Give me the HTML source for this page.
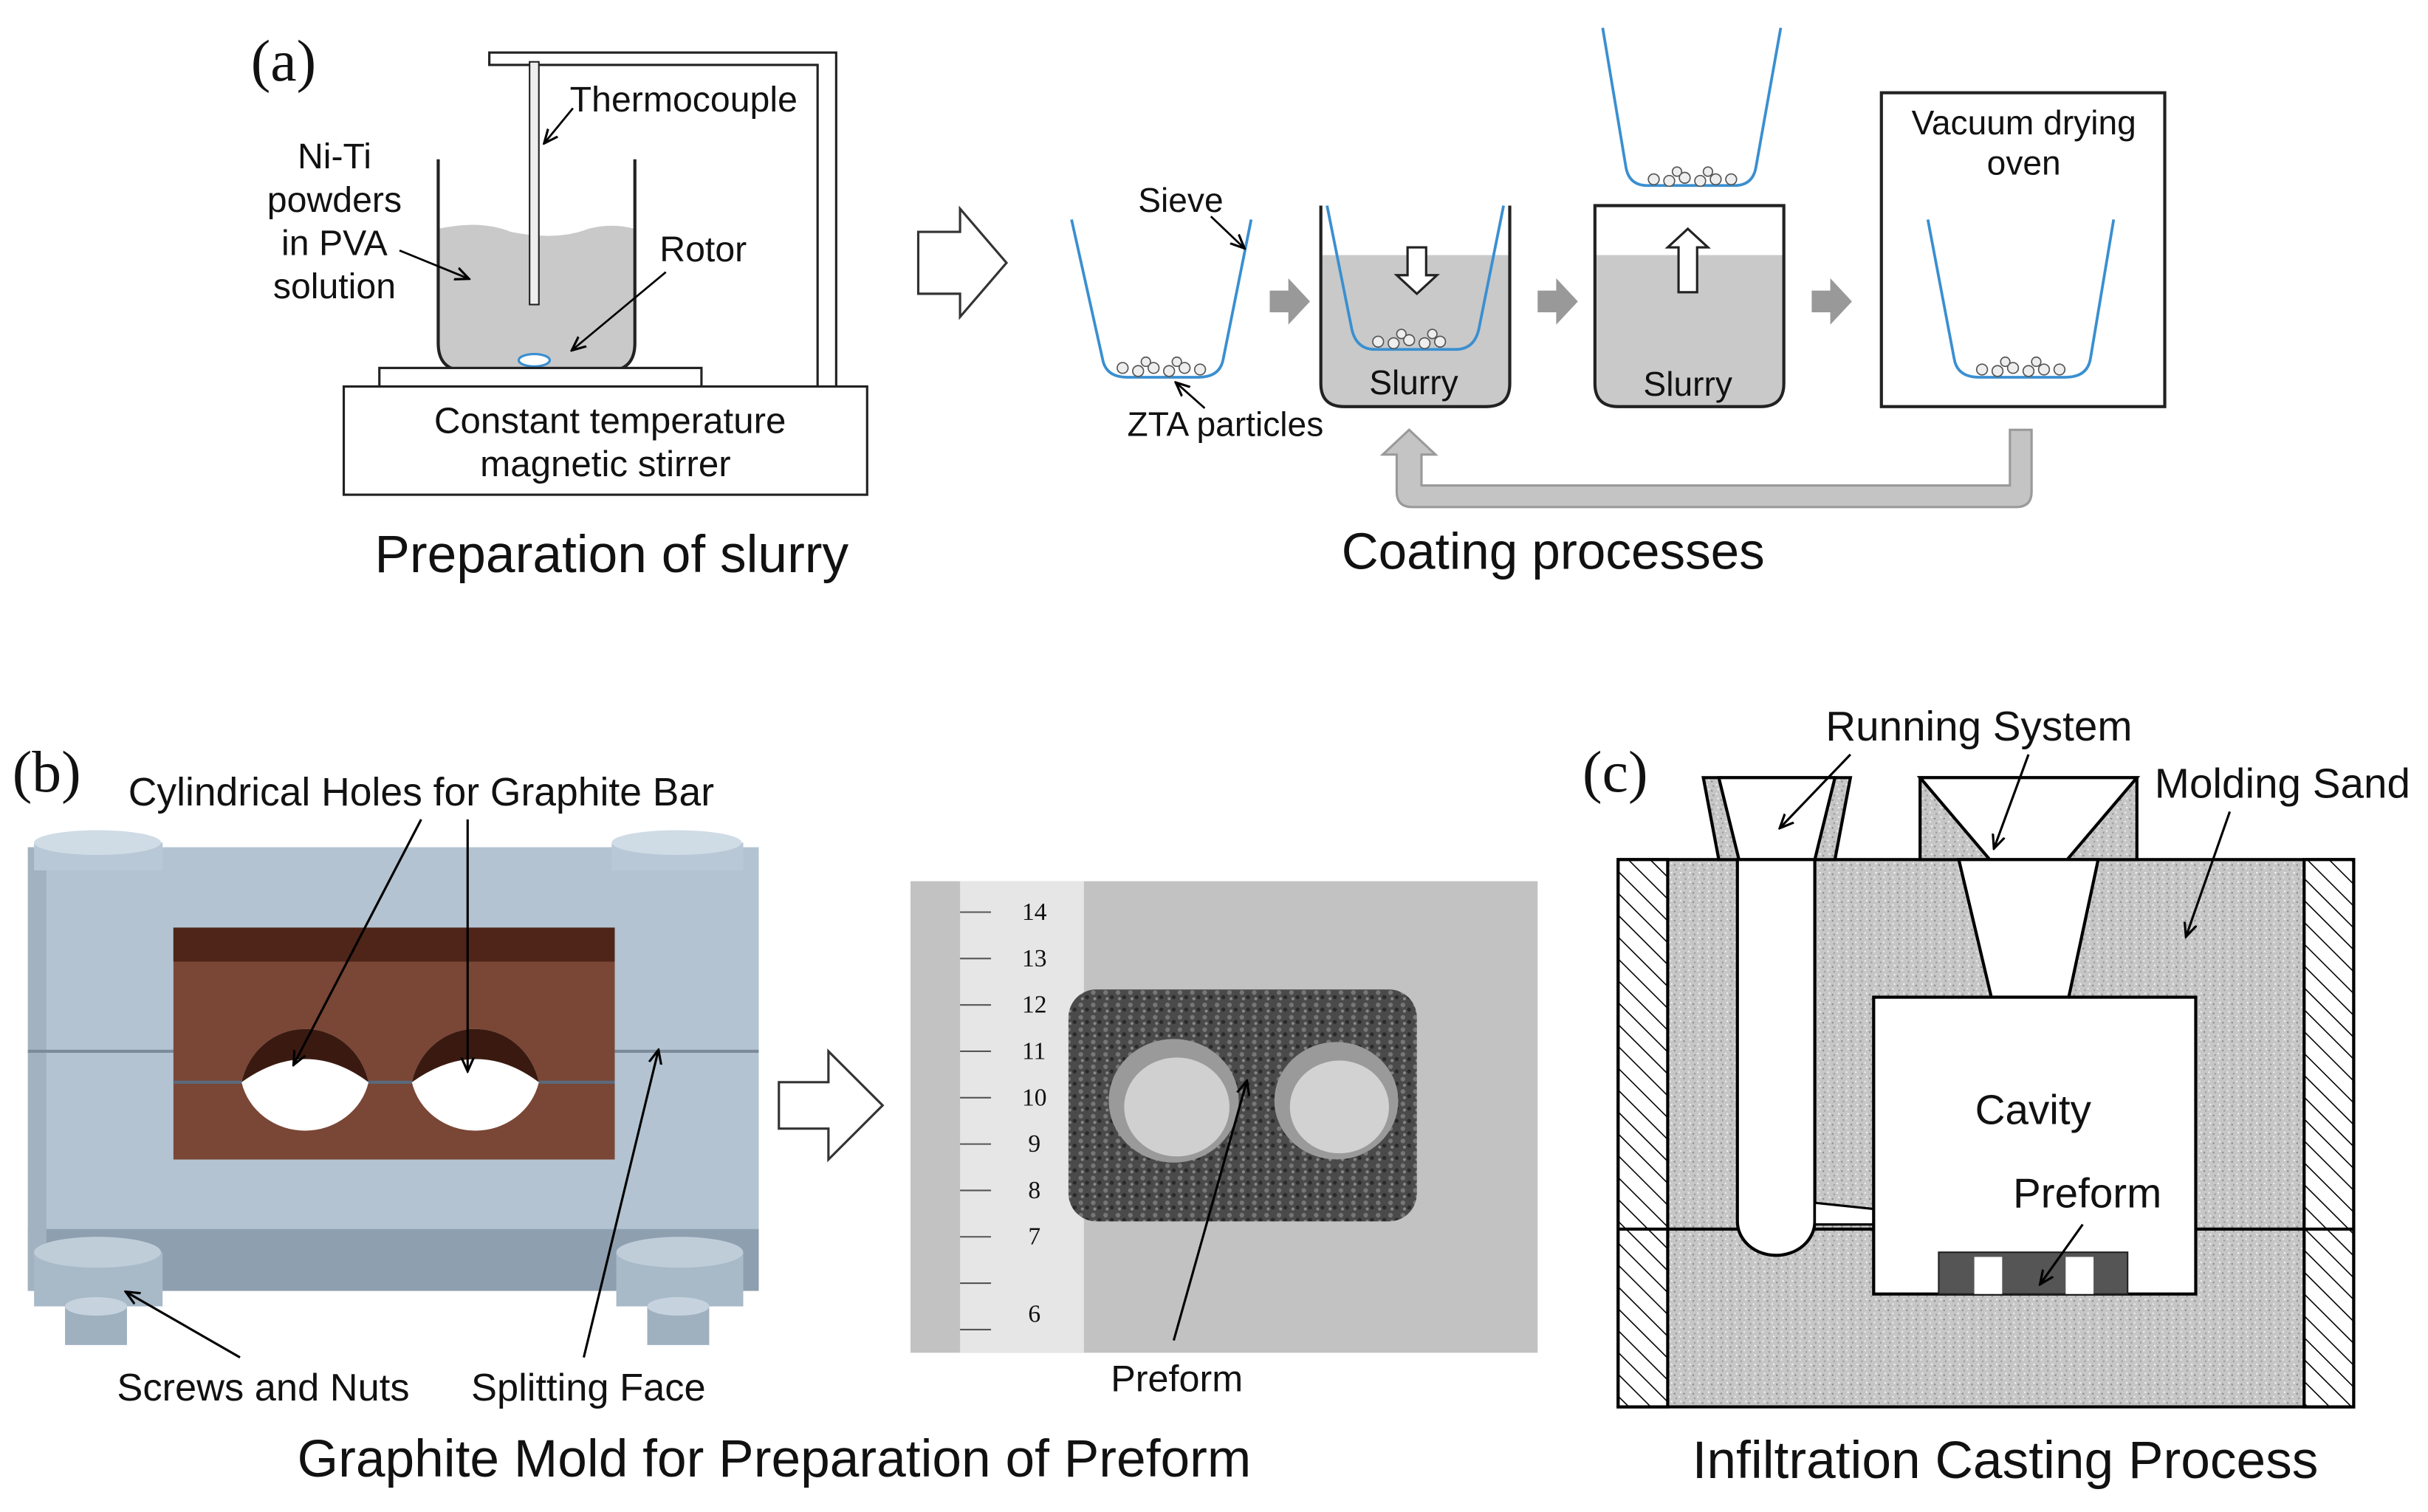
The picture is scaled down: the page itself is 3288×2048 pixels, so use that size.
<!DOCTYPE html>
<html><head><meta charset="utf-8"><style>
html,body{margin:0;padding:0;background:#fff}
svg{display:block}
text{font-family:"Liberation Sans",sans-serif;fill:#111}
.s{font-family:"Liberation Serif",serif}
</style></head><body>
<svg width="3288" height="2048" viewBox="0 0 1568 978" preserveAspectRatio="none" xmlns="http://www.w3.org/2000/svg">
<defs>
<marker id="ah" markerWidth="10" markerHeight="10" refX="8" refY="5" orient="auto" markerUnits="userSpaceOnUse"><path d="M0,1 L9,5 L0,9" fill="none" stroke="#000" stroke-width="1.5"/></marker>
<pattern id="sand" width="6" height="6" patternUnits="userSpaceOnUse"><rect width="6" height="6" fill="#c6c6c6"/><rect x="1" y="1" width="1" height="1" fill="#888"/><rect x="4" y="3" width="1" height="1" fill="#eee"/><rect x="2" y="4" width="1" height="1" fill="#999"/><rect x="5" y="0" width="1" height="1" fill="#f4f4f4"/></pattern>
<pattern id="hatch" width="10" height="10" patternUnits="userSpaceOnUse" patternTransform="rotate(-45)"><rect width="10" height="10" fill="#fff"/><line x1="0" y1="0" x2="0" y2="10" stroke="#000" stroke-width="1.5"/></pattern>
<pattern id="grit" width="8" height="8" patternUnits="userSpaceOnUse"><rect width="8" height="8" fill="#4a4a4a"/><circle cx="2" cy="2" r="1.5" fill="#777"/><circle cx="6" cy="5" r="1.3" fill="#2a2a2a"/><circle cx="3" cy="6" r="1" fill="#888"/></pattern>
</defs>
<rect width="1568" height="978" fill="#fff"/>

<!-- (a) -->
<text class="s" x="162" y="52" font-size="38">(a)</text>
<path d="M316,34 H540 V250 H528 V42 H316 Z" fill="#fff" stroke="#222" stroke-width="1.5"/>
<path d="M283,148 Q310,142 330,150 Q360,156 380,148 Q395,144 410,148 V222 Q410,240 392,240 H301 Q283,240 283,222 Z" fill="#c9c9c9"/>
<path d="M283,103 V222 Q283,240 301,240 H392 Q410,240 410,222 V103" fill="none" stroke="#222" stroke-width="2"/>
<rect x="342" y="40" width="6" height="157" fill="#eee" stroke="#222" stroke-width="1"/>
<ellipse cx="345" cy="233" rx="10" ry="4" fill="#fff" stroke="#3a8fd0" stroke-width="1.5"/>
<rect x="245" y="238" width="208" height="12" fill="#fff" stroke="#222" stroke-width="1.5"/>
<rect x="222" y="250" width="338" height="70" fill="#fff" stroke="#222" stroke-width="1.5"/>
<text x="394" y="280" font-size="23.5" text-anchor="middle">Constant temperature</text>
<text x="391" y="308" font-size="23.5" text-anchor="middle">magnetic  stirrer</text>
<g font-size="23" text-anchor="middle"><text x="216" y="109">Ni-Ti</text><text x="216" y="137">powders</text><text x="216" y="165">in PVA</text><text x="216" y="193">solution</text></g>
<text x="368" y="72" font-size="23">Thermocouple</text>
<line x1="370" y1="70" x2="352" y2="92" stroke="#000" stroke-width="1.3" marker-end="url(#ah)"/>
<text x="426" y="169" font-size="23">Rotor</text>
<line x1="430" y1="176" x2="370" y2="226" stroke="#000" stroke-width="1.3" marker-end="url(#ah)"/>
<line x1="258" y1="162" x2="302" y2="180" stroke="#000" stroke-width="1.3" marker-end="url(#ah)"/>
<text x="395" y="370" font-size="34" text-anchor="middle">Preparation of slurry</text>

<path d="M593,150 H620 V135 L650,170 L620,205 V190 H593 Z" fill="#fff" stroke="#333" stroke-width="1.5"/>

<!-- sieve 1 -->
<path d="M692,142 L712,232 Q714,244 728,244 H774 Q788,244 790,232 L808,142" fill="none" stroke="#3a8fd0" stroke-width="1.8"/>
<g fill="#eee" stroke="#555" stroke-width="0.8"><circle cx="725" cy="238" r="3.5"/><circle cx="735" cy="240" r="3.5"/><circle cx="745" cy="238" r="3.5"/><circle cx="755" cy="240" r="3.5"/><circle cx="765" cy="238" r="3.5"/><circle cx="775" cy="239" r="3.5"/><circle cx="740" cy="234" r="3"/><circle cx="760" cy="234" r="3"/></g>
<text x="735" y="137" font-size="22">Sieve</text>
<line x1="782" y1="140" x2="803" y2="160" stroke="#000" stroke-width="1.3" marker-end="url(#ah)"/>
<text x="728" y="282" font-size="22">ZTA particles</text>
<line x1="778" y1="264" x2="760" y2="248" stroke="#000" stroke-width="1.3" marker-end="url(#ah)"/>
<g fill="#999"><path d="M820,188 H832 V180 L846,195 L832,210 V202 H820 Z"/><path d="M993,188 H1005 V180 L1019,195 L1005,210 V202 H993 Z"/><path d="M1170,188 H1182 V180 L1196,195 L1182,210 V202 H1170 Z"/></g>

<!-- beaker 2 -->
<path d="M853,165 H975 V248 Q975,263 960,263 H868 Q853,263 853,248 Z" fill="#c9c9c9"/>
<path d="M853,133 V248 Q853,263 868,263 H960 Q975,263 975,248 V133" fill="none" stroke="#222" stroke-width="2"/>
<path d="M857,133 L873,213 Q876,226 888,226 H940 Q952,226 955,213 L971,133" fill="none" stroke="#3a8fd0" stroke-width="1.8"/>
<g fill="#eee" stroke="#555" stroke-width="0.8"><circle cx="890" cy="221" r="3.5"/><circle cx="900" cy="222" r="3.5"/><circle cx="910" cy="220" r="3.5"/><circle cx="920" cy="222" r="3.5"/><circle cx="930" cy="221" r="3.5"/><circle cx="905" cy="216" r="3"/><circle cx="925" cy="216" r="3"/></g>
<path d="M909,160 H921 V178 H928 L915,190 L902,178 H909 Z" fill="#fff" stroke="#222" stroke-width="1.5"/>
<text x="913" y="255" font-size="22" text-anchor="middle">Slurry</text>

<!-- beaker 3 -->
<path d="M1030,165 H1152 V248 Q1152,263 1137,263 H1045 Q1030,263 1030,248 Z" fill="#c9c9c9"/>
<path d="M1030,133 V248 Q1030,263 1045,263 H1137 Q1152,263 1152,248 V133 Z" fill="none" stroke="#222" stroke-width="2"/>
<path d="M1084,189 H1096 V160 H1103 L1090,148 L1077,160 H1084 Z" fill="#fff" stroke="#222" stroke-width="1.5"/>
<text x="1090" y="256" font-size="22" text-anchor="middle">Slurry</text>
<path d="M1035,18 L1050,108 Q1052,120 1064,120 H1120 Q1132,120 1134,108 L1150,18" fill="none" stroke="#3a8fd0" stroke-width="1.8"/>
<g fill="#eee" stroke="#555" stroke-width="0.8"><circle cx="1068" cy="116" r="3.5"/><circle cx="1078" cy="117" r="3.5"/><circle cx="1088" cy="115" r="3.5"/><circle cx="1098" cy="117" r="3.5"/><circle cx="1108" cy="116" r="3.5"/><circle cx="1118" cy="116" r="3.5"/><circle cx="1083" cy="111" r="3"/><circle cx="1103" cy="111" r="3"/></g>

<!-- oven -->
<rect x="1215" y="60" width="183" height="203" fill="#fff" stroke="#222" stroke-width="2"/>
<text x="1307" y="87" font-size="22" text-anchor="middle">Vacuum drying</text>
<text x="1307" y="113" font-size="22" text-anchor="middle">oven</text>
<path d="M1245,142 L1262,232 Q1264,244 1278,244 H1334 Q1348,244 1350,232 L1365,142" fill="none" stroke="#3a8fd0" stroke-width="1.8"/>
<g fill="#eee" stroke="#555" stroke-width="0.8"><circle cx="1280" cy="239" r="3.5"/><circle cx="1290" cy="240" r="3.5"/><circle cx="1300" cy="238" r="3.5"/><circle cx="1310" cy="240" r="3.5"/><circle cx="1320" cy="239" r="3.5"/><circle cx="1330" cy="239" r="3.5"/><circle cx="1295" cy="234" r="3"/><circle cx="1315" cy="234" r="3"/></g>
<path d="M1298,278 H1312 V318 Q1312,328 1302,328 H912 Q902,328 902,318 V294 H893 L910,278 L927,294 H918 V314 H1298 Z" fill="#c4c4c4" stroke="#9a9a9a" stroke-width="1.5"/>
<text x="1003" y="368" font-size="33" text-anchor="middle">Coating processes</text>

<!-- (b) -->
<text class="s" x="8" y="512" font-size="38">(b)</text>
<text x="272" y="521" font-size="25.5" text-anchor="middle">Cylindrical Holes for Graphite Bar</text>
<rect x="18" y="548" width="472" height="250" fill="#b3c3d1"/>
<rect x="18" y="795" width="472" height="40" fill="#8e9faf"/>
<rect x="18" y="548" width="12" height="287" fill="#a2b2c0"/>
<line x1="18" y1="680" x2="490" y2="680" stroke="#7b8b99" stroke-width="2"/>
<rect x="22" y="545" width="83" height="18" fill="#b8c8d6"/><ellipse cx="63" cy="545" rx="41" ry="8" fill="#cfdbe5"/>
<rect x="395" y="545" width="85" height="18" fill="#b8c8d6"/><ellipse cx="437" cy="545" rx="42" ry="8" fill="#cfdbe5"/>
<rect x="22" y="810" width="83" height="35" fill="#a8b9c8"/><ellipse cx="63" cy="810" rx="41" ry="10" fill="#bfcdd9"/>
<rect x="42" y="845" width="40" height="25" fill="#9fb0bf"/><ellipse cx="62" cy="845" rx="20" ry="6" fill="#c6d3de"/>
<rect x="398" y="810" width="82" height="35" fill="#a8b9c8"/><ellipse cx="439" cy="810" rx="41" ry="10" fill="#bfcdd9"/>
<rect x="418" y="845" width="40" height="25" fill="#9fb0bf"/><ellipse cx="438" cy="845" rx="20" ry="6" fill="#c6d3de"/>
<rect x="112" y="600" width="285" height="150" fill="#7a4636"/>
<rect x="112" y="600" width="285" height="22" fill="#4e2518"/>
<line x1="112" y1="700" x2="397" y2="700" stroke="#5a6a7a" stroke-width="2"/>
<path d="M156,700 A42,44 0 0 1 238,700 A42,40 0 0 1 156,700 Z" fill="#fff"/>
<path d="M156,700 A42,44 0 0 1 238,700 Q198,670 156,700Z" fill="#3a1a10"/>
<path d="M266,700 A42,44 0 0 1 348,700 A42,40 0 0 1 266,700 Z" fill="#fff"/>
<path d="M266,700 A42,44 0 0 1 348,700 Q308,670 266,700Z" fill="#3a1a10"/>
<line x1="272" y1="530" x2="190" y2="688" stroke="#000" stroke-width="1.5" marker-end="url(#ah)"/>
<line x1="302" y1="530" x2="302" y2="692" stroke="#000" stroke-width="1.5" marker-end="url(#ah)"/>
<line x1="155" y1="878" x2="82" y2="836" stroke="#000" stroke-width="1.5" marker-end="url(#ah)"/>
<line x1="377" y1="878" x2="425" y2="680" stroke="#000" stroke-width="1.5" marker-end="url(#ah)"/>
<text x="170" y="906" font-size="25" text-anchor="middle">Screws and Nuts</text>
<text x="380" y="906" font-size="25" text-anchor="middle">Splitting Face</text>

<path d="M503,700 H535 V680 L570,715 L535,750 V730 H503 Z" fill="#fff" stroke="#333" stroke-width="1.5"/>

<rect x="588" y="570" width="405" height="305" fill="#c2c2c2"/>
<rect x="620" y="570" width="80" height="305" fill="#e6e6e6"/>
<g stroke="#555" stroke-width="1"><line x1="620" y1="590" x2="640" y2="590"/><line x1="620" y1="620" x2="640" y2="620"/><line x1="620" y1="650" x2="640" y2="650"/><line x1="620" y1="680" x2="640" y2="680"/><line x1="620" y1="710" x2="640" y2="710"/><line x1="620" y1="740" x2="640" y2="740"/><line x1="620" y1="770" x2="640" y2="770"/><line x1="620" y1="800" x2="640" y2="800"/><line x1="620" y1="830" x2="640" y2="830"/><line x1="620" y1="860" x2="640" y2="860"/></g>
<g font-size="16"><text x="660" y="595" class="s">14</text><text x="660" y="625" class="s">13</text><text x="660" y="655" class="s">12</text><text x="660" y="685" class="s">11</text><text x="660" y="715" class="s">10</text><text x="664" y="745" class="s">9</text><text x="664" y="775" class="s">8</text><text x="664" y="805" class="s">7</text><text x="664" y="855" class="s">6</text></g>
<rect x="690" y="640" width="225" height="150" rx="18" fill="url(#grit)"/>
<ellipse cx="758" cy="712" rx="42" ry="40" fill="#9a9a9a"/><ellipse cx="760" cy="716" rx="34" ry="32" fill="#d0d0d0"/>
<ellipse cx="863" cy="712" rx="40" ry="38" fill="#9a9a9a"/><ellipse cx="865" cy="716" rx="32" ry="30" fill="#d2d2d2"/>
<line x1="758" y1="867" x2="805" y2="700" stroke="#000" stroke-width="1.5" marker-end="url(#ah)"/>
<text x="760" y="900" font-size="24" text-anchor="middle">Preform</text>
<text x="500" y="955" font-size="34" text-anchor="middle">Graphite Mold for Preparation of Preform</text>

<!-- (c) -->
<text class="s" x="1022" y="512" font-size="38">(c)</text>
<rect x="1045" y="556" width="475" height="354" fill="url(#sand)" stroke="#000" stroke-width="2"/>
<rect x="1045" y="556" width="32" height="354" fill="url(#hatch)" stroke="#000" stroke-width="2"/>
<rect x="1488" y="556" width="32" height="354" fill="url(#hatch)" stroke="#000" stroke-width="2"/>
<line x1="1045" y1="795" x2="1520" y2="795" stroke="#000" stroke-width="2"/>
<path d="M1100,503 H1195 L1185,556 H1110 Z" fill="url(#sand)" stroke="#000" stroke-width="2"/>
<path d="M1110,503 H1185 L1172,556 H1123 Z" fill="#fff" stroke="#000" stroke-width="2"/>
<path d="M1240,503 H1380 V556 H1240 Z" fill="url(#sand)" stroke="#000" stroke-width="2"/>
<path d="M1240,503 H1380 L1335,556 H1285 Z" fill="#fff" stroke="#000" stroke-width="2"/>
<path d="M1122,556 V790 A25,22 0 0 0 1172,790 V556 Z" fill="#fff" stroke="#000" stroke-width="2"/>
<path d="M1265,556 H1355 L1336,645 H1286 Z" fill="#fff" stroke="#000" stroke-width="2"/>
<path d="M1172,778 L1210,782 V792 L1172,792 Z" fill="#fff" stroke="#000" stroke-width="1.5"/>
<rect x="1210" y="645" width="208" height="192" fill="#fff" stroke="#000" stroke-width="2"/>
<rect x="1252" y="810" width="122" height="27" fill="#555" stroke="#222"/>
<rect x="1275" y="813" width="18" height="24" fill="#fff"/><rect x="1334" y="813" width="18" height="24" fill="#fff"/>
<text x="1313" y="727" font-size="27" text-anchor="middle">Cavity</text>
<text x="1348" y="781" font-size="27" text-anchor="middle">Preform</text>
<line x1="1345" y1="792" x2="1318" y2="830" stroke="#000" stroke-width="1.5" marker-end="url(#ah)"/>
<text x="1278" y="479" font-size="27" text-anchor="middle">Running System</text>
<line x1="1195" y1="488" x2="1150" y2="535" stroke="#000" stroke-width="1.5" marker-end="url(#ah)"/>
<line x1="1310" y1="488" x2="1288" y2="548" stroke="#000" stroke-width="1.5" marker-end="url(#ah)"/>
<text x="1474" y="516" font-size="27" text-anchor="middle">Molding Sand</text>
<line x1="1440" y1="525" x2="1412" y2="605" stroke="#000" stroke-width="1.5" marker-end="url(#ah)"/>
<text x="1295" y="956" font-size="34" text-anchor="middle">Infiltration Casting Process</text>
</svg>
</body></html>
